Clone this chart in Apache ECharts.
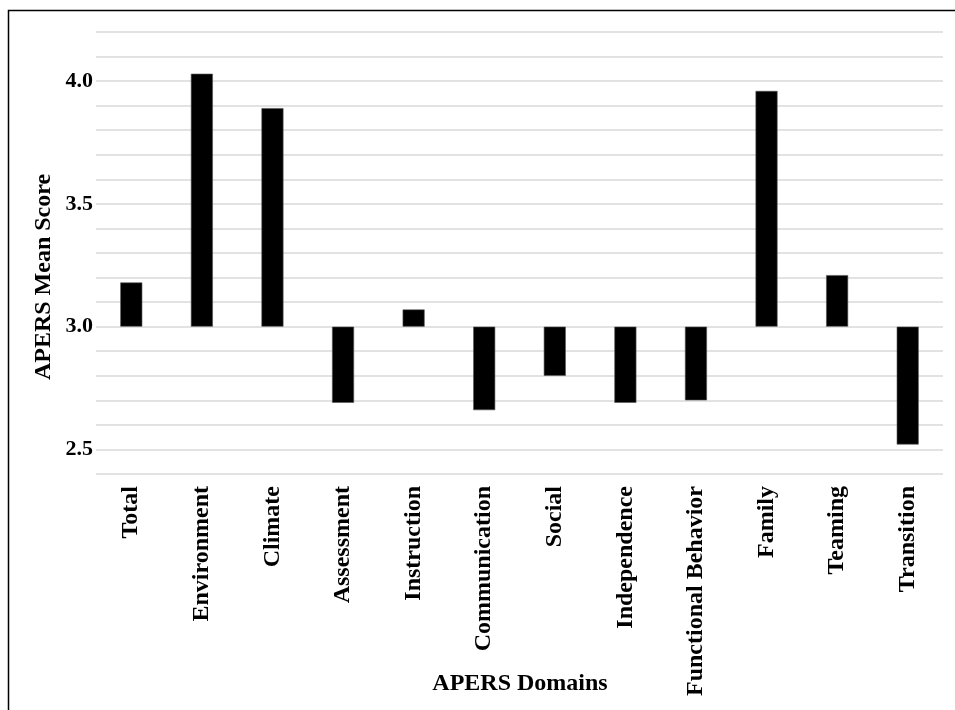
<!DOCTYPE html>
<html>
<head>
<meta charset="utf-8">
<script src="https://cdn.jsdelivr.net/npm/echarts@6/dist/echarts.min.js"></script>
<style>
  html, body { margin: 0; padding: 0; background: #fff; }
  #chart { width: 955px; height: 710px; }
</style>
</head>
<body>
<div id="chart"></div>
<script>
const categories = ['Total', 'Environment', 'Climate', 'Assessment', 'Instruction', 'Communication',
  'Social', 'Independence', 'Functional Behavior', 'Family', 'Teaming', 'Transition'];
const meanScores = [3.18, 4.03, 3.89, 2.69, 3.07, 2.66, 2.80, 2.69, 2.70, 3.96, 3.21, 2.52];
const baselineScore = 3.0;
const yMin = 2.4;
const yMax = 4.2;
const yInterval = 0.1;
const yLabelStep = 0.5;
const yAxisTitle = 'APERS Mean Score';
const xAxisTitle = 'APERS Domains';

const baseValues = meanScores.map(v => Math.min(v, baselineScore));
const deltaValues = meanScores.map(v => +Math.abs(v - baselineScore).toFixed(4));

const FONT = '"Liberation Serif", "Times New Roman", serif';
const chart = echarts.init(document.getElementById('chart'), null, { renderer: 'canvas' });

chart.setOption({
  animation: false,
  backgroundColor: '#ffffff',
  grid: { left: 96, right: 12, top: 32, bottom: 236, containLabel: false },
  xAxis: {
    type: 'category',
    data: categories,
    axisLine: { show: false },
    axisTick: { show: false },
    axisLabel: {
      rotate: 90,
      margin: 12,
      interval: 0,
      color: '#000',
      fontFamily: FONT,
      fontWeight: 'bold',
      fontSize: 24
    }
  },
  yAxis: {
    type: 'value',
    min: yMin,
    max: yMax,
    interval: yInterval,
    axisLine: { show: false },
    axisTick: { show: false },
    splitLine: { lineStyle: { color: '#d9d9d9', width: 1.5 } },
    axisLabel: {
      margin: 3,
      color: '#000',
      fontFamily: FONT,
      fontWeight: 'bold',
      fontSize: 22,
      formatter: function (v) {
        const r = v / yLabelStep;
        return Math.abs(r - Math.round(r)) < 1e-6 ? v.toFixed(1) : '';
      }
    }
  },
  series: [
    {
      type: 'bar',
      stack: 'score',
      data: baseValues,
      barWidth: 22,
      itemStyle: { color: 'rgba(0,0,0,0)' },
      emphasis: { disabled: true },
      silent: true
    },
    {
      type: 'bar',
      stack: 'score',
      data: deltaValues,
      barWidth: 22,
      itemStyle: { color: '#000', borderColor: '#555', borderWidth: 0.6 }
    }
  ],
  graphic: [
    {
      type: 'rect',
      shape: { x: 8.5, y: 10.5, width: 1200, height: 1200 },
      style: { fill: 'none', stroke: '#000', lineWidth: 1.5 },
      silent: true
    },
    {
      type: 'text',
      x: 44,
      y: 277,
      rotation: Math.PI / 2,
      style: {
        text: yAxisTitle,
        fill: '#000',
        font: 'bold 24px ' + FONT,
        align: 'center',
        verticalAlign: 'middle'
      }
    },
    {
      type: 'text',
      x: 520,
      y: 684,
      style: {
        text: xAxisTitle,
        fill: '#000',
        font: 'bold 24px ' + FONT,
        align: 'center',
        verticalAlign: 'middle'
      }
    }
  ]
});
</script>
</body>
</html>
